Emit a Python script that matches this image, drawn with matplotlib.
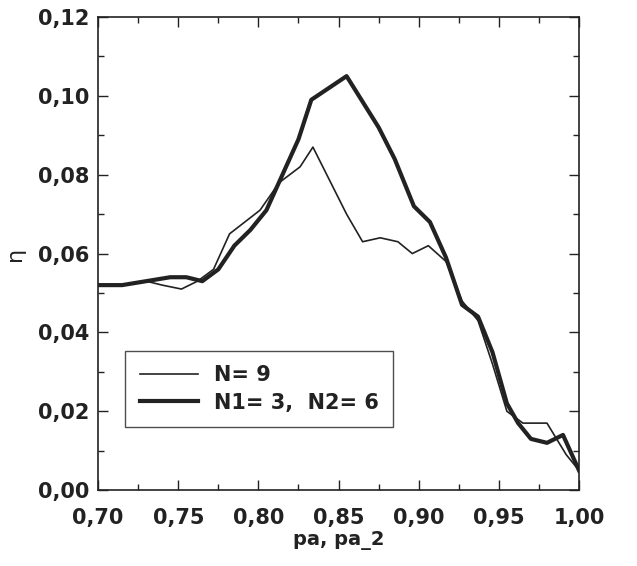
import matplotlib.pyplot as plt
from matplotlib.ticker import MultipleLocator, FuncFormatter

# N = 9 (thin line)
pa_single = [0.700, 0.715, 0.730, 0.740, 0.752, 0.762, 0.772, 0.782, 0.801,
             0.813, 0.826, 0.834, 0.855, 0.865, 0.876, 0.887, 0.896, 0.906,
             0.917, 0.927, 0.937, 0.946, 0.955, 0.965, 0.980, 0.992, 1.000]
eta_single = [0.052, 0.052, 0.053, 0.052, 0.051, 0.053, 0.056, 0.065, 0.071,
              0.078, 0.082, 0.087, 0.070, 0.063, 0.064, 0.063, 0.060, 0.062,
              0.058, 0.048, 0.043, 0.032, 0.020, 0.017, 0.017, 0.009, 0.005]

# N1 = 3, N2 = 6 (thick line)
pa_tapered = [0.700, 0.715, 0.730, 0.745, 0.755, 0.765, 0.775, 0.785, 0.795,
              0.805, 0.815, 0.825, 0.833, 0.855, 0.875, 0.885, 0.897, 0.907,
              0.917, 0.927, 0.937, 0.946, 0.955, 0.962, 0.970, 0.980, 0.990,
              1.000]
eta_tapered = [0.052, 0.052, 0.053, 0.054, 0.054, 0.053, 0.056, 0.062, 0.066,
               0.071, 0.080, 0.089, 0.099, 0.105, 0.092, 0.084, 0.072, 0.068,
               0.059, 0.047, 0.044, 0.035, 0.022, 0.017, 0.013, 0.012, 0.014,
               0.005]

plt.rcParams['font.family'] = ['DejaVu Sans']
ink = '#222222'

fig = plt.figure(figsize=(6.37, 5.66), dpi=100)
ax = fig.add_axes([0.154, 0.134, 0.755, 0.836])

ax.plot(pa_single, eta_single, color=ink, lw=1.2, label='N= 9')
ax.plot(pa_tapered, eta_tapered, color=ink, lw=3.0, label='N1= 3,  N2= 6')

ax.set_xlim(0.70, 1.00)
ax.set_ylim(0.0, 0.12)
ax.xaxis.set_major_locator(MultipleLocator(0.05))
ax.xaxis.set_minor_locator(MultipleLocator(0.025))
ax.yaxis.set_major_locator(MultipleLocator(0.02))
ax.yaxis.set_minor_locator(MultipleLocator(0.01))
comma = FuncFormatter(lambda v, p: f'{v:.2f}'.replace('.', ','))
ax.xaxis.set_major_formatter(comma)
ax.yaxis.set_major_formatter(comma)

ax.tick_params(which='both', direction='in', top=True, right=True,
               color=ink, width=1.0)
ax.tick_params(which='major', length=7, labelsize=15)
ax.tick_params(which='minor', length=4)
ax.tick_params(axis='x', which='major', pad=13)
ax.tick_params(axis='y', which='major', pad=6)
for lab in ax.get_xticklabels() + ax.get_yticklabels():
    lab.set_fontweight('bold')
    lab.set_color(ink)
for sp in ax.spines.values():
    sp.set_color(ink)
    sp.set_linewidth(1.2)

ax.set_xlabel('pa, pa_2', fontsize=14, fontweight='bold', color=ink, labelpad=2)
ax.set_ylabel('η', fontsize=16, color=ink, labelpad=10)

leg = ax.legend(loc='lower left', bbox_to_anchor=(0.056, 0.133), borderaxespad=0,
                fontsize=15, frameon=True, fancybox=False, edgecolor=ink,
                handlelength=2.8, handletextpad=0.75, borderpad=0.7,
                labelspacing=0.35)
leg.get_frame().set_linewidth(1.0)
for t in leg.get_texts():
    t.set_fontweight('bold')
    t.set_color(ink)

fig.savefig('out.png', dpi=100)
